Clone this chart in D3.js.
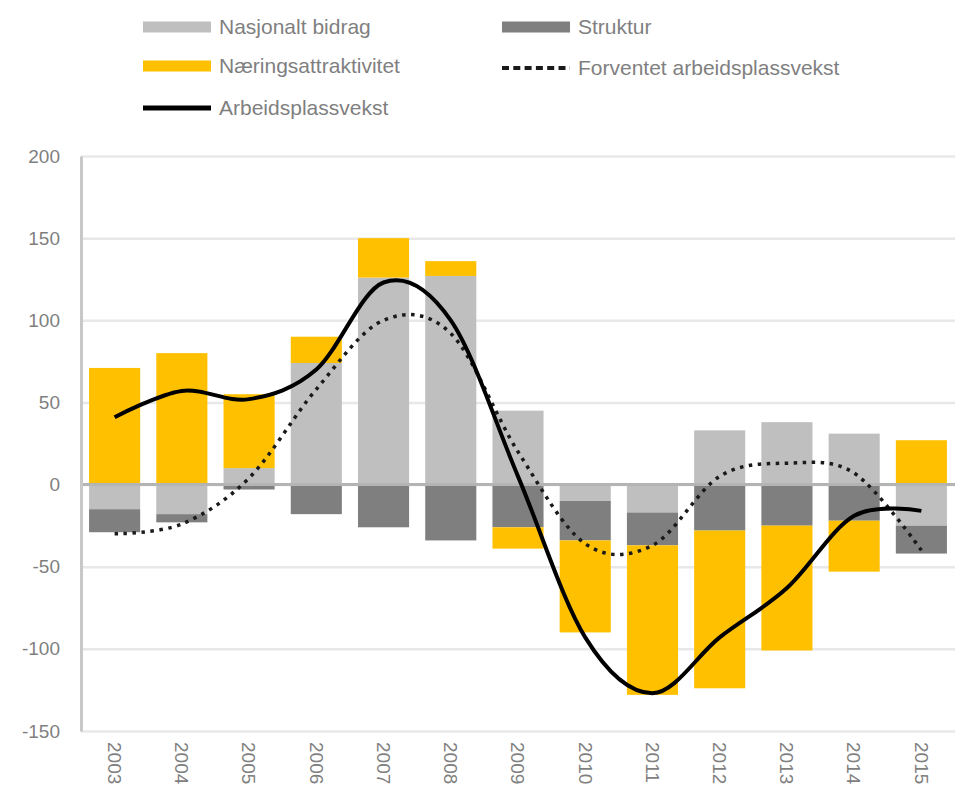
<!DOCTYPE html>
<html>
<head>
<meta charset="utf-8">
<style>
  body { margin: 0; background: #ffffff; font-family: "Liberation Sans", Arial, sans-serif; }
  .tick text { fill: #7f7f7f; }
</style>
<script src="https://cdn.jsdelivr.net/npm/d3@7"></script>
</head>
<body>
<svg id="chart"></svg>
<script>
// values
const years = ["2003","2004","2005","2006","2007","2008","2009","2010","2011","2012","2013","2014","2015"];
const nasjonalt = [-15, -18, 10, 74, 126, 127, 45, -10, -17, 33, 38, 31, -25];
const struktur = [-14, -5, -3, -18, -26, -34, -26, -24, -20, -28, -25, -22, -17];
const naering = [71, 80, 45, 16, 24, 9, -13, -56, -91, -96, -76, -31, 27];
const forventet = [-30, -24, 4, 58, 100, 92, 20, -36, -37, 5, 13, 7, -40];
const arbeidsplassvekst = [41, 57, 52, 70, 123, 100, 5, -93, -127, -93, -63, -19, -16];
const yTicks = [200, 150, 100, 50, 0, -50, -100, -150];

const width = 973, height = 800;
const margin = { top: 156, right: 18, bottom: 69, left: 81 };
const bodyWidth = width - margin.left - margin.right;
const bodyHeight = height - margin.top - margin.bottom;

const svg = d3.select("#chart").attr("width", width).attr("height", height);

const rows = years.map((yr, i) => ({
  year: yr,
  nasjonalt: nasjonalt[i],
  struktur: struktur[i],
  naering: naering[i]
}));

const keys = ["nasjonalt", "struktur", "naering"];
const colors = { nasjonalt: "#bfbfbf", struktur: "#7f7f7f", naering: "#ffc000" };

const stacked = d3.stack().keys(keys).offset(d3.stackOffsetDiverging)(rows);

const x = d3.scaleBand().domain(years).range([0, bodyWidth]).paddingInner(0.24).paddingOuter(0.12);
const y = d3.scaleLinear().domain([-150, 200]).range([bodyHeight, 0]);

const body = svg.append("g").attr("transform", `translate(${margin.left},${margin.top})`);

// gridlines
const grid = body.append("g")
  .call(d3.axisLeft(y).tickValues(yTicks).tickSize(-bodyWidth).tickFormat(""));
grid.select(".domain").remove();
grid.selectAll("line").attr("stroke", "#e8e8e8").attr("stroke-width", 2.5);

// bars
body.selectAll(".series")
  .data(stacked)
  .join("g")
  .attr("class", "series")
  .attr("fill", d => colors[d.key])
  .selectAll("rect")
  .data(d => d)
  .join("rect")
  .attr("x", d => x(d.data.year))
  .attr("width", x.bandwidth())
  .attr("y", d => y(Math.max(d[0], d[1])))
  .attr("height", d => Math.abs(y(d[0]) - y(d[1])));

// zero line on top of bars
body.append("line")
  .attr("x1", 0).attr("x2", bodyWidth)
  .attr("y1", y(0)).attr("y2", y(0))
  .attr("stroke", "#b4b4b4").attr("stroke-width", 3);

// y axis
const yAxis = body.append("g")
  .call(d3.axisLeft(y).tickValues(yTicks).tickSize(0).tickSizeOuter(0).tickPadding(21)
    .tickFormat(d => String(d)));
yAxis.select(".domain").attr("stroke", "#c8c8c8").attr("stroke-width", 3);
yAxis.selectAll("text").style("font-size", "19px").style("font-family", "Liberation Sans, Arial, sans-serif");

// x axis labels
const xAxis = body.append("g")
  .attr("transform", `translate(0,${bodyHeight})`)
  .call(d3.axisBottom(x).tickSize(0));
xAxis.select(".domain").remove();
xAxis.selectAll("text")
  .attr("transform", "rotate(90)")
  .attr("x", 11).attr("y", 0).attr("dy", "0.35em")
  .attr("text-anchor", "start")
  .style("font-size", "19px")
  .style("font-family", "Liberation Sans, Arial, sans-serif");

// lines
const cx = i => x(years[i]) + x.bandwidth() / 2;
const smooth = d3.line()
  .x((d, i) => cx(i))
  .y(d => y(d))
  .curve(d3.curveCardinal.tension(0));

body.append("path")
  .datum(forventet)
  .attr("d", smooth)
  .attr("fill", "none")
  .attr("stroke", "#1a1a1a")
  .attr("stroke-width", 3.5)
  .attr("stroke-dasharray", "3.5,5.5");

body.append("path")
  .datum(arbeidsplassvekst)
  .attr("d", smooth)
  .attr("fill", "none")
  .attr("stroke", "#000000")
  .attr("stroke-width", 4)
  .attr("stroke-linejoin", "round");

// legend
const legendItems = [
  { label: "Nasjonalt bidrag", type: "rect", color: colors.nasjonalt, x: 143, y: 27 },
  { label: "Struktur", type: "rect", color: colors.struktur, x: 502, y: 27 },
  { label: "Næringsattraktivitet", type: "rect", color: colors.naering, x: 143, y: 66 },
  { label: "Forventet arbeidsplassvekst", type: "dots", color: "#1a1a1a", x: 502, y: 68 },
  { label: "Arbeidsplassvekst", type: "line", color: "#000000", x: 143, y: 108 }
];

const legend = svg.append("g").selectAll("g")
  .data(legendItems)
  .join("g")
  .attr("transform", d => `translate(${d.x},${d.y})`);

legend.filter(d => d.type === "rect").append("rect")
  .attr("x", 0).attr("y", -5.5).attr("width", 68).attr("height", 11)
  .attr("fill", d => d.color);

legend.filter(d => d.type === "line").append("line")
  .attr("x1", 0).attr("x2", 68).attr("y1", 0).attr("y2", 0)
  .attr("stroke", d => d.color).attr("stroke-width", 5);

legend.filter(d => d.type === "dots").append("line")
  .attr("x1", 0).attr("x2", 68).attr("y1", 0).attr("y2", 0)
  .attr("stroke", d => d.color).attr("stroke-width", 4)
  .attr("stroke-dasharray", "7,4.3");

legend.append("text")
  .attr("x", 76).attr("y", 0).attr("dy", "0.35em")
  .attr("fill", "#7f7f7f")
  .style("font-size", "21px")
  .text(d => d.label);
</script>
</body>
</html>
